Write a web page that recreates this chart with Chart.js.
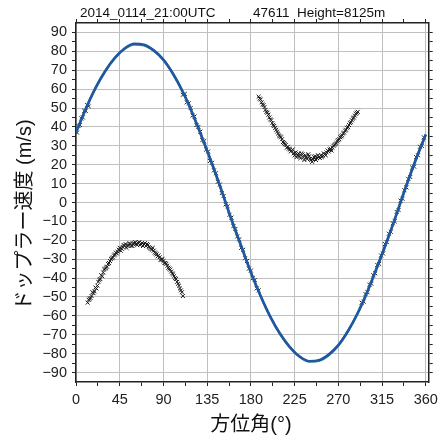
<!DOCTYPE html>
<html>
<head>
<meta charset="utf-8">
<script src="https://cdn.jsdelivr.net/npm/chart.js@4.4.1/dist/chart.umd.min.js"></script>
<style>
  html, body { margin: 0; padding: 0; background: #fff; }
</style>
</head>
<body>
<canvas id="dopplerChart" width="443" height="439"></canvas>
<script>
// fitted VAD curve, every 10 deg
const curveAz = [0,10,20,30,40,50,60,70,80,90,100,110,120,130,140,150,160,170,180,
  190,200,210,220,230,240,250,260,270,280,290,300,310,320,330,340,350,360];
const blueCurve = [37,49.5,60.5,69.5,76.5,81.5,84,83.5,80.5,75.5,68,58.5,47,34,20.5,6,-9,-23,-37,
  -49.5,-60.5,-69.5,-76.5,-81.5,-84,-83.5,-80.5,-75.5,-68,-58.5,-47,-34,-20.5,-6,9,23,36];
const greenCurve = [37,49.5,60.5,69.5,76.5,81.3,83.6,83.2,80.4,75.5,68,58.5,47,34,20.5,6,-9,-23,-37,
  -49.5,-60.5,-69.5,-76.5,-81.5,-84.1,-83.8,-80.9,-75.7,-68,-58.5,-47,-34,-20.5,-6,9,23,36];

// observed doppler velocities (crosses)
const obsAzA = [1,2.5,4,5.5,7,8.5,10,11.5,13];
const obsVelA = [37,40.5,41,44.5,45,48.5,48.5,51.5,51];

const obsAzB = [110,112,114,116,118,120,122,124,126,128,130,132,134,136,138,140,142,144,146,148,
  150,152,154,156,158,160,162,164,166,168,170,172,174,176,178,180,182,184,186,188];
const obsVelB = [57,57.5,53,52.5,50,46,45.5,41,40,37.5,33,32.5,28,27,22,21,17,15.5,11,9.5,
  5,3.5,-1,-2,-6.5,-8,-12.5,-14,-18,-19.5,-24,-25,-29.5,-31,-35,-36,-40,-41,-45.5,-46.5];

const obsAzC = [294,296,298,300,302,304,306,308,310,312,314,316,318,320,322,324,326,328,330,
  332,334,336,338,340,342,344,346,348,350,352,354,356,358];
const obsVelC = [-53,-52.5,-48.5,-47.5,-43.5,-43,-38.5,-37.5,-33,-32.5,-28,-27,-22,-21,-16.5,-15.5,-11,-10,-5,
  -4,1,2,6.5,8,12.5,13.5,18.5,19,24,25,29.5,30,34.5];

// folded (aliased) velocities
const foldAzL = [12,14,16,18,20,22,24,26,28,30,32,34,36,38,40,42,44,46,48,50,52,54,56,58,60,
  62,64,66,68,70,72,74,76,78,80,82,84,86,88,90,92,94,96,98,100,102,104,106,108,110];
const foldVelL = [-53,-51,-49.5,-48,-45,-44,-41,-38.5,-37,-35,-34,-32,-30,-29,-27.5,-27,-25,-25.5,-23.5,-23,-24,-22.5,-22,-23,-21.5,
  -22,-21.5,-22.5,-21.5,-22,-23,-22.5,-24,-25,-25.5,-27,-28.5,-29,-30,-31,-32,-33.5,-35,-36.5,-38,-40,-42,-44,-46.5,-49.5];
const foldAzL2 = [13,15,17,19,21,23,25,27,29,31,33,35,37,39,41,43,45,47,49,51,53,55,57,59,61,
  63,65,67,69,71,73,75,77,79,81,83,85,87,89,91,93,95,97,99,101,103,105,107,109];
const foldVelL2 = [-51.5,-50.5,-47.5,-47,-45.5,-42,-40.5,-39,-35.5,-34.5,-32.5,-31,-29.5,-28,-26.5,-26,-24,-24.5,-22.5,-22,-23,-21.5,-23,-22,-21,
  -22.5,-21,-22,-23,-21.5,-22,-23.5,-24.5,-24,-26.5,-27.5,-28,-30.5,-30,-32,-32.5,-34.5,-35.5,-37.5,-39,-40.5,-43,-45.5,-47.5];

const foldAzR = [188,190,192,194,196,198,200,202,204,206,208,210,212,214,216,218,220,222,224,226,228,230,232,234,236,238,
  240,242,244,246,248,250,252,254,256,258,260,262,264,266,268,270,272,274,276,278,280,282,284,286,288,290];
const foldVelR = [56,54.5,52,50.5,48,46.5,44,42,40.5,38.5,36.5,35,33.5,31.5,30.5,29.5,28,27.5,26,26.5,25,24.5,26,24,25,23,
  24.5,22.5,23,24.5,23.5,24,25,24.5,25.5,26.5,27,28.5,29,30.5,31.5,33,34.5,35.5,37,38.5,40,42,43.5,45,47,48];
const foldAzR2 = [189,191,193,195,197,199,201,203,205,207,209,211,213,215,217,219,221,223,225,227,229,231,233,235,237,
  239,241,243,245,247,249,251,253,255,257,259,261,263,265,267,269,271,273,275,277,279,281,283,285,287,289];
const foldVelR2 = [55,53,51.5,49,47.5,45,43.5,41,39.5,37.5,35.5,34.5,32,31,29,28.5,27,28,25,24,26,23.5,25.5,22.5,24,
  25.5,23,21.5,24,22.5,25,23.5,24,26,25,27.5,28,27.5,30,31,32.5,33.5,35,36.5,38,39.5,41,42.5,44.5,46,47.5];

const xTicks = [0,45,90,135,180,225,270,315,360];
const xMinor = [22.5,67.5,112.5,157.5,202.5,247.5,292.5,337.5];
const yTicks = [-90,-80,-70,-60,-50,-40,-30,-20,-10,0,10,20,30,40,50,60,70,80,90];
const yMinor = [-85,-75,-65,-55,-45,-35,-25,-15,-5,5,15,25,35,45,55,65,75,85];

const titleLeft = '2014_0114_21:00UTC';
const titleRight = '47611  Height=8125m';
const xTitle = '方位角(°)';
const yTitle = 'ドップラー速度 (m/s)';

const pts = (xs, ys) => xs.map((x, i) => ({ x: x, y: ys[i] }));
const obsPoints = pts(obsAzA, obsVelA).concat(pts(obsAzB, obsVelB), pts(obsAzC, obsVelC),
  pts(foldAzL, foldVelL), pts(foldAzL2, foldVelL2), pts(foldAzR, foldVelR), pts(foldAzR2, foldVelR2));

const tickFont = { family: '"Liberation Sans", Arial, sans-serif', size: 14.5 };
const gridGray = '#bfbfbf';

function setTicks(major, minor) {
  return s => { s.ticks = major.concat(minor).sort((a, b) => a - b).map(v => ({ value: v })); };
}
const isMajor = (list, v) => list.indexOf(v) >= 0;
const minusSign = v => String(v).replace('-', '\u2212');

const textPlugin = {
  id: 'textPlugin',
  afterDraw(chart) {
    const c = chart.ctx;
    c.save();
    c.fillStyle = '#111';
    c.textBaseline = 'middle';
    c.textAlign = 'left';
    c.font = '13.5px "Liberation Sans", Arial, sans-serif';
    c.fillText(titleLeft, 80, 13);
    c.fillText(titleRight, 253, 13);
    c.font = '20px "Liberation Sans", "Noto Sans CJK JP", sans-serif';
    c.textAlign = 'center';
    c.fillText(xTitle, 251, 425);
    c.translate(25, 215);
    c.rotate(-Math.PI / 2);
    c.fillText(yTitle, 0, 0);
    c.restore();
  }
};

new Chart(document.getElementById('dopplerChart'), {
  type: 'scatter',
  data: {
    datasets: [
      {
        data: pts(curveAz, blueCurve),
        showLine: true,
        borderColor: '#2355a6',
        borderWidth: 2.6,
        pointRadius: 0,
        cubicInterpolationMode: 'monotone',
        order: 0
      },
      {
        data: pts(curveAz, greenCurve),
        showLine: true,
        borderColor: '#2fae5a',
        borderWidth: 2.4,
        pointRadius: 0,
        cubicInterpolationMode: 'monotone',
        order: 1
      },
      {
        data: obsPoints,
        pointStyle: 'crossRot',
        pointRadius: 2.8,
        borderColor: '#1a1a1a',
        borderWidth: 1,
        order: 2
      }
    ]
  },
  options: {
    responsive: false,
    animation: false,
    layout: { padding: 0 },
    plugins: {
      legend: { display: false },
      title: { display: false },
      tooltip: { enabled: false }
    },
    scales: {
      x: {
        type: 'linear',
        position: 'bottom',
        min: 0,
        max: 363,
        afterBuildTicks: setTicks(xTicks, xMinor),
        afterFit: s => { s.height = 57; },
        ticks: {
          autoSkip: false,
          maxRotation: 0,
          padding: 5,
          color: '#222',
          font: tickFont,
          callback: v => isMajor(xTicks, v) ? v : ''
        },
        grid: {
          color: ctx => isMajor(xTicks, ctx.tick.value) ? gridGray : 'rgba(0,0,0,0)',
          tickColor: '#222',
          tickLength: 4,
          lineWidth: 1
        },
        border: { color: '#222', width: 1.5 }
      },
      x2: {
        type: 'linear',
        axis: 'x',
        position: 'top',
        min: 0,
        max: 363,
        afterBuildTicks: setTicks(xTicks, xMinor),
        afterFit: s => { s.height = 23; },
        ticks: { display: false },
        grid: { drawOnChartArea: false, tickColor: '#222', tickLength: 4 },
        border: { color: '#222', width: 1.5 }
      },
      y: {
        type: 'linear',
        position: 'left',
        min: -95,
        max: 95,
        afterBuildTicks: setTicks(yTicks, yMinor),
        afterFit: s => { s.width = 76; },
        ticks: {
          autoSkip: false,
          padding: 5,
          color: '#222',
          font: tickFont,
          callback: v => isMajor(yTicks, v) ? minusSign(v) : ''
        },
        grid: {
          color: ctx => isMajor(yTicks, ctx.tick.value) ? gridGray : 'rgba(0,0,0,0)',
          tickColor: '#222',
          tickLength: 4,
          lineWidth: 1
        },
        border: { color: '#222', width: 1.5 }
      },
      y2: {
        type: 'linear',
        axis: 'y',
        position: 'right',
        min: -95,
        max: 95,
        afterBuildTicks: setTicks(yTicks, yMinor),
        afterFit: s => { s.width = 10; },
        ticks: { display: false },
        grid: { drawOnChartArea: false, tickColor: '#222', tickLength: 4 },
        border: { color: '#222', width: 1.5 }
      }
    }
  },
  plugins: [textPlugin]
});
</script>
</body>
</html>
